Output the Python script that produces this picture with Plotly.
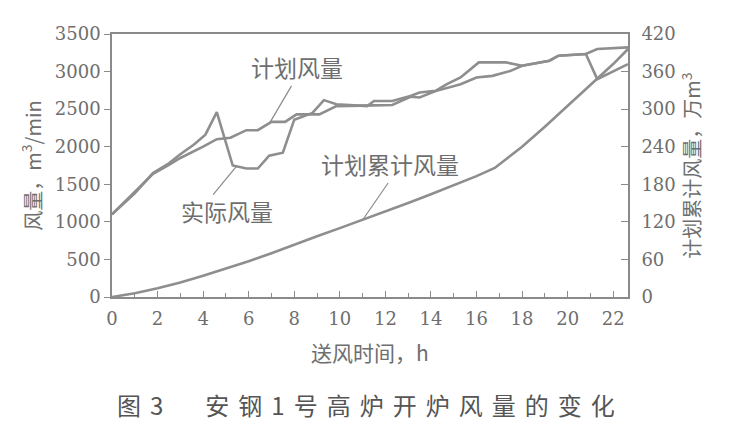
import plotly.graph_objects as go

# Blast volume during blow-in, m3/min
plan_h = [0, 0.5, 1.0, 1.8, 2.5, 3.0, 4.0, 4.6, 5.2, 5.9, 6.4, 7.0, 7.6, 8.1, 9.1, 9.85,
          11.5, 12.3, 13.1, 13.5, 14.2, 15.3, 16.0, 16.7, 17.5, 18.0, 19.2, 19.6, 20.8, 21.3, 22.65]
plan_q = [1100, 1250, 1390, 1640, 1760, 1850, 2000, 2100, 2120, 2220, 2220, 2330, 2330, 2430, 2430, 2540,
          2550, 2555, 2665, 2655, 2740, 2832, 2921, 2943, 3010, 3077, 3144, 3211, 3233, 3300, 3322]

act_h = [0, 0.5, 1.0, 1.8, 2.5, 3.0, 3.6, 4.1, 4.6, 5.3, 5.9, 6.4, 6.9, 7.5, 8.0, 8.8, 9.3, 9.85,
         11.2, 11.5, 12.3, 13.1, 13.5, 14.2, 14.7, 15.3, 16.1, 17.3, 18.0, 19.2, 19.6, 20.8, 21.3, 22.65]
act_q = [1100, 1240, 1380, 1650, 1780, 1900, 2030, 2160, 2460, 1750, 1710, 1710, 1880, 1920, 2360, 2450, 2620, 2565,
         2540, 2609, 2609, 2676, 2721, 2743, 2832, 2921, 3122, 3122, 3077, 3144, 3211, 3233, 2899, 3099]

# Planned cumulative blast volume, 10^4 m3
cum_h = [0, 1, 2, 3, 4, 5, 6, 7, 8, 9, 10, 11, 12, 13, 14, 15, 16, 16.8, 17.5, 18, 19, 20, 21, 22, 22.65]
cum_v = [0, 6, 14, 23, 34, 45, 57, 70, 84, 97, 110, 123, 136, 150, 164, 178, 193, 206, 225, 240, 272, 305, 338, 372, 396]

x_ticks = list(range(0, 23, 2))
y_ticks = list(range(0, 3501, 500))
y2_ticks = list(range(0, 421, 60))

LINE = "#8e8e8e"
TXT = "#6e6e6e"
AX = "#8a8a8a"
SERIF = "DejaVu Serif"
CJK = "Noto Sans CJK SC"

fig = go.Figure()
fig.add_trace(go.Scatter(x=plan_h, y=plan_q, mode="lines",
                         line=dict(color=LINE, width=2.6), name="计划风量"))
fig.add_trace(go.Scatter(x=act_h, y=act_q, mode="lines",
                         line=dict(color=LINE, width=2.6), name="实际风量"))
fig.add_trace(go.Scatter(x=cum_h, y=cum_v, mode="lines", yaxis="y2",
                         line=dict(color=LINE, width=2.6), name="计划累计风量"))

def leader(x0, y0, x1, y1, yref="y"):
    return dict(type="line", xref="x", yref=yref, x0=x0, y0=y0, x1=x1, y1=y1,
                line=dict(color=AX, width=1.2))

shapes = [
    leader(6.93, 2320, 7.88, 2809),
    leader(5.47, 1741, 4.44, 1363),
    leader(11.0, 123, 12.12, 182, yref="y2"),
]

label_font = dict(family=CJK, size=23, color=TXT)
ann = [
    dict(x=8.11, y=3059, xref="x", yref="y", text="计划风量", showarrow=False, font=label_font),
    dict(x=5.03, y=1139, xref="x", yref="y", text="实际风量", showarrow=False, font=label_font),
    dict(x=12.19, y=1770, xref="x", yref="y", text="计划累计风量", showarrow=False, font=label_font),
    dict(x=0.5, y=-0.209, xref="paper", yref="paper", text="送风时间，h", showarrow=False,
         font=dict(family=CJK, size=21, color=TXT), xanchor="center", yanchor="middle"),
    dict(x=0.5, y=-0.41, xref="paper", yref="paper",
         text='<span style="letter-spacing:9px">图3　安钢1号高炉开炉风量的变化</span>',
         showarrow=False, font=dict(family=CJK, size=24, color="#555555"),
         xanchor="center", yanchor="middle"),
]

tick_font = dict(family=SERIF, size=18, color=TXT)

fig.update_layout(
    width=740, height=430,
    margin=dict(l=112, r=112, t=34, b=133),
    paper_bgcolor="white", plot_bgcolor="white",
    font=dict(family=SERIF, size=18, color=TXT),
    showlegend=False,
    annotations=ann,
    shapes=shapes,
    xaxis=dict(range=[0, 22.65], tickvals=x_ticks, ticks="inside", ticklen=6, tickwidth=1.2,
               tickcolor=AX, showline=True, linecolor=AX, linewidth=1.6, mirror=True,
               showgrid=False, zeroline=False, ticklabelstandoff=5,
               minor=dict(dtick=1, ticks="inside", ticklen=4, tickcolor=AX, showgrid=False),
               tickfont=tick_font),
    yaxis=dict(range=[0, 3500], tickvals=y_ticks, ticks="outside", ticklen=6, tickwidth=1.2,
               tickcolor=AX, showline=True, linecolor=AX, linewidth=1.6,
               showgrid=False, zeroline=False, tickfont=tick_font,
               title=dict(text="风量，m<sup>3</sup>/min", standoff=8,
                          font=dict(family=CJK, size=20, color=TXT))),
    yaxis2=dict(range=[0, 420], tickvals=y2_ticks, overlaying="y", side="right", anchor="x",
                ticks="inside", ticklen=7, tickwidth=1.2, tickcolor=AX,
                showline=True, linecolor=AX, linewidth=1.6,
                showgrid=False, zeroline=False, ticklabelstandoff=8, tickfont=tick_font,
                title=dict(text="计划累计风量，万m<sup>3</sup>", standoff=6,
                           font=dict(family=CJK, size=20, color=TXT))),
)

fig.write_html("out.html")
